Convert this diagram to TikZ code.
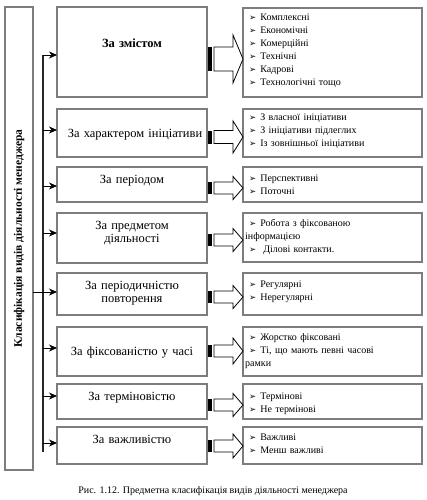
\documentclass[tikz,border=0pt]{standalone}
\usepackage{fontspec}
\setmainfont{Liberation Serif}
\newfontfamily\dv{DejaVu Sans}
\usetikzlibrary{arrows.meta}
\definecolor{boxgray}{RGB}{125,125,125}
\newcommand\bul{\hspace*{4pt}{\dv\fontsize{8.5}{8.5}\selectfont ➢}\hspace{4pt}}
% #1 coordinate of arrow start (on box east side), #2 body half height, #3 head half height
\newcommand\blkarrow[3]{%
  \fill[black] (#1) ++(1,-#2) rectangle ++(4,2*#2);
  \draw[draw=black,fill=white,line width=0.8pt,line join=miter]
    (#1) ++(7,-#2) -- ++(19,0) -- ++(0,#2-#3) -- ++(10,#3) -- ++(-10,#3)
    -- ++(0,#2-#3) -- ++(-19,0) -- cycle;}
\begin{document}
\begin{tikzpicture}[x=1pt,y=-1pt,
  graybox/.style={draw=boxgray,line width=1.2pt,inner sep=0pt,outer sep=0pt,anchor=north west},
  mbox/.style={graybox,minimum width=150},
  rbox/.style={graybox,minimum width=179},
  mtext/.style={anchor=base,align=center,text width=146,inner sep=0pt,font=\fontsize{12.5}{13}\selectfont},
  rtext/.style={anchor=base west,align=left,text width=175,inner sep=0pt,font=\fontsize{10}{13}\selectfont},
  vline/.style={line width=1.4pt,draw=black!85},
  arr/.style={line width=0.9pt,-{Stealth[length=8pt,width=7pt,inset=2.5pt]}}]
\useasboundingbox (0,0) rectangle (426,500);

% left box
\node[graybox,minimum width=28,minimum height=463] (L) at (5,7) {};
\node[rotate=90,inner sep=0pt,font=\bfseries\fontsize{11.5}{13}\selectfont] (Lt) at (L.center) {Класифікація видів діяльності менеджера};

% middle boxes
\node[mbox,minimum height=90] (m1) at (57,7) {};
\node[mbox,minimum height=48] (m2) at (57,109) {};
\node[mbox,minimum height=35] (m3) at (57,167) {};
\node[mbox,minimum height=50] (m4) at (57,213) {};
\node[mbox,minimum height=42] (m5) at (57,273) {};
\node[mbox,minimum height=49] (m6) at (57,327) {};
\node[mbox,minimum height=35] (m7) at (57,384) {};
\node[mbox,minimum height=37] (m8) at (57,427) {};

\node[mtext] (t1) at (132,48) {\bfseries За змістом};
\node[mtext] (t2) at (135,137) {За характером ініціативи};
\node[mtext] (t3) at (132,183) {За періодом};
\node[mtext] (t4) at (132,229) {За предметом\\діяльності};
\node[mtext] (t5) at (132,289) {За періодичністю\\повторення};
\node[mtext] (t6) at (132,355) {За фіксованістю у часі};
\node[mtext] (t7) at (132,400) {За терміновістю};
\node[mtext] (t8) at (132,443) {За важливістю};

% right boxes
\node[rbox,minimum height=89] (r1) at (243,8) {};
\node[rbox,minimum height=48] (r2) at (243,109) {};
\node[rbox,minimum height=35] (r3) at (243,167) {};
\node[rbox,minimum height=49] (r4) at (243,213) {};
\node[rbox,minimum height=42] (r5) at (243,273) {};
\node[rbox,minimum height=49] (r6) at (243,327) {};
\node[rbox,minimum height=35] (r7) at (243,384) {};
\node[rbox,minimum height=37] (r8) at (243,427) {};

\node[rtext] (s1) at (245,20.5) {\bul Комплексні\\\bul Економічні\\\bul Комерційні\\\bul Технічні\\\bul Кадрові\\\bul Технологічні тощо};
\node[rtext] (s2) at (245,120.5) {\bul З власної ініціативи\\\bul З ініціативи підлеглих\\\bul Із зовнішньої ініціативи};
\node[rtext] (s3) at (245,181.5) {\bul Перспективні\\\bul Поточні};
\node[rtext] (s4) at (245,226.5) {\bul Робота з фіксованою\\інформацією\\\bul\hspace*{3pt}Ділові контакти.};
\node[rtext] (s5) at (245,287.5) {\bul Регулярні\\\bul Нерегулярні};
\node[rtext] (s6) at (245,340.5) {\bul Жорстко фіксовані\\\bul Ті, що мають певні часові\\рамки};
\node[rtext] (s7) at (245,399.5) {\bul Термінові\\\bul Не термінові};
\node[rtext] (s8) at (245,440.5) {\bul Важливі\\\bul Менш важливі};

% vertical distribution line and arrows
\coordinate (vtop) at (43,55);
\coordinate (vbot) at (43,452);
\draw[vline] (vtop) -- (vbot);
\draw[arr] (vtop) -- (m1.west |- vtop);
\draw[arr] (vtop |- 0,130) -- (m2.west |- 0,130);
\draw[arr] (vtop |- 0,186) -- (m3.west |- 0,186);
\draw[arr] (vtop |- 0,233) -- (m4.west |- 0,233);
\draw[arr] (vtop |- 0,348) -- (m6.west |- 0,348);
\draw[arr] (vtop |- 0,396) -- (m7.west |- 0,396);
\draw[arr] (vtop |- 0,443) -- (m8.west |- 0,443);
\draw[arr] (L.east |- 0,292) -- (m5.west |- 0,292);

% block arrows
\coordinate (a1) at (m1.east |- 0,59);
\coordinate (a2) at (m2.east |- 0,137);
\coordinate (a3) at (m3.east |- 0,188);
\coordinate (a4) at (m4.east |- 0,240);
\coordinate (a5) at (m5.east |- 0,297);
\coordinate (a6) at (m6.east |- 0,351);
\coordinate (a7) at (m7.east |- 0,405);
\coordinate (a8) at (m8.east |- 0,446);
\blkarrow{a1}{12}{24}
\blkarrow{a2}{6.5}{16}
\blkarrow{a3}{6}{11.5}
\blkarrow{a4}{6}{11.5}
\blkarrow{a5}{6}{11.5}
\blkarrow{a6}{6}{13}
\blkarrow{a7}{6}{11.5}
\blkarrow{a8}{6}{12}

% caption
\node[anchor=base,inner sep=0pt,font=\fontsize{10}{12}\selectfont] (cap) at (213,493.5) {Рис. 1.12. Предметна класифікація видів діяльності менеджера};
\end{tikzpicture}
\end{document}
